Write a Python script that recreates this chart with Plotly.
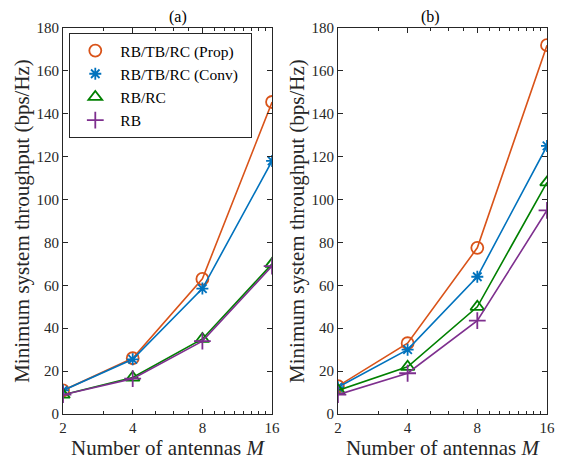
import plotly.graph_objects as go
from plotly.subplots import make_subplots

antennas = [2, 4, 8, 16]
series_names = ["RB/TB/RC (Prop)", "RB/TB/RC (Conv)", "RB/RC", "RB"]
a_prop = [11.0, 26.0, 63.0, 145.5]
a_conv = [11.0, 25.5, 58.5, 118.0]
a_rbrc = [9.0, 17.0, 35.0, 70.0]
a_rb = [9.0, 16.5, 34.0, 69.0]
b_prop = [13.0, 33.0, 77.5, 172.0]
b_conv = [12.5, 30.0, 64.0, 125.0]
b_rbrc = [11.0, 22.0, 50.0, 108.0]
b_rb = [9.0, 19.0, 43.5, 95.0]
y_ticks = [0, 20, 40, 60, 80, 100, 120, 140, 160, 180]
x_ticks = [2, 4, 8, 16]
x_minor = [3, 5, 6, 7, 9, 10, 11, 12, 13, 14, 15]

colors = ["#D95319", "#0072BD", "#008000", "#7E2F8E"]
symbols = ["circle-open", "asterisk-open", "triangle-up-open", "cross-thin-open"]
sizes = [12, 10, 12, 12]

FONT = "Liberation Serif, Times New Roman, serif"
AX = "#262626"

fig = make_subplots(rows=1, cols=2, horizontal_spacing=0.136)

panels = [[a_prop, a_conv, a_rbrc, a_rb], [b_prop, b_conv, b_rbrc, b_rb]]
for col, data in enumerate(panels, start=1):
    for i, ys in enumerate(data):
        fig.add_trace(go.Scatter(
            x=antennas, y=ys, mode="lines+markers", showlegend=False,
            line=dict(color=colors[i], width=1.6),
            marker=dict(symbol=symbols[i], size=sizes[i], color=colors[i],
                        line=dict(color=colors[i], width=1.8)),
        ), row=1, col=col)

# legend-only entries (markers only, as in the reference)
for i, name in enumerate(series_names):
    fig.add_trace(go.Scatter(
        x=[None], y=[None], mode="markers", name=name + "\u00a0\u00a0",
        marker=dict(symbol=symbols[i], size=sizes[i], color=colors[i],
                    line=dict(color=colors[i], width=1.8)),
    ), row=1, col=1)

for col in (1, 2):
    fig.update_xaxes(
        type="log", range=[0.30103, 1.20412], tickvals=x_ticks,
        ticktext=[str(v) for v in x_ticks], ticks="inside", ticklen=5,
        tickcolor=AX, showline=True, linecolor=AX, linewidth=1, mirror="allticks",
        showgrid=False, zeroline=False,
        minor=dict(tickvals=x_minor, ticks="inside", ticklen=3, tickcolor=AX, showgrid=False),
        tickfont=dict(family=FONT, size=15, color=AX),
        title=dict(text="Number of antennas <i>M</i>", font=dict(family=FONT, size=21, color=AX), standoff=4),
        row=1, col=col)
    fig.update_yaxes(
        range=[0, 180], tickvals=y_ticks, ticks="inside", ticklen=5,
        tickcolor=AX, showline=True, linecolor=AX, linewidth=1, mirror="allticks",
        showgrid=False, zeroline=False,
        tickfont=dict(family=FONT, size=15, color=AX),
        title=dict(text="Minimum system throughput (bps/Hz)", font=dict(family=FONT, size=21, color=AX), standoff=1),
        row=1, col=col)

fig.add_annotation(text="(a)", x=0.2155, y=1.0, xref="paper", yref="paper",
                   yanchor="bottom", showarrow=False, yshift=0,
                   font=dict(family=FONT, size=16, color="#000000"))
fig.add_annotation(text="(b)", x=0.7835, y=1.0, xref="paper", yref="paper",
                   yanchor="bottom", showarrow=False, yshift=0,
                   font=dict(family=FONT, size=16, color="#000000"))

fig.update_layout(
    width=562, height=466,
    margin=dict(l=63, r=7, t=28, b=52),
    paper_bgcolor="white", plot_bgcolor="white",
    font=dict(family=FONT, color=AX),
    legend=dict(x=0.013, y=0.987, xanchor="left", yanchor="top",
                bgcolor="white", bordercolor="#262626", borderwidth=1,
                font=dict(family=FONT, size=15.5, color="#000000"),
                tracegroupgap=0, itemwidth=40),
)

fig.write_html("out.html")
